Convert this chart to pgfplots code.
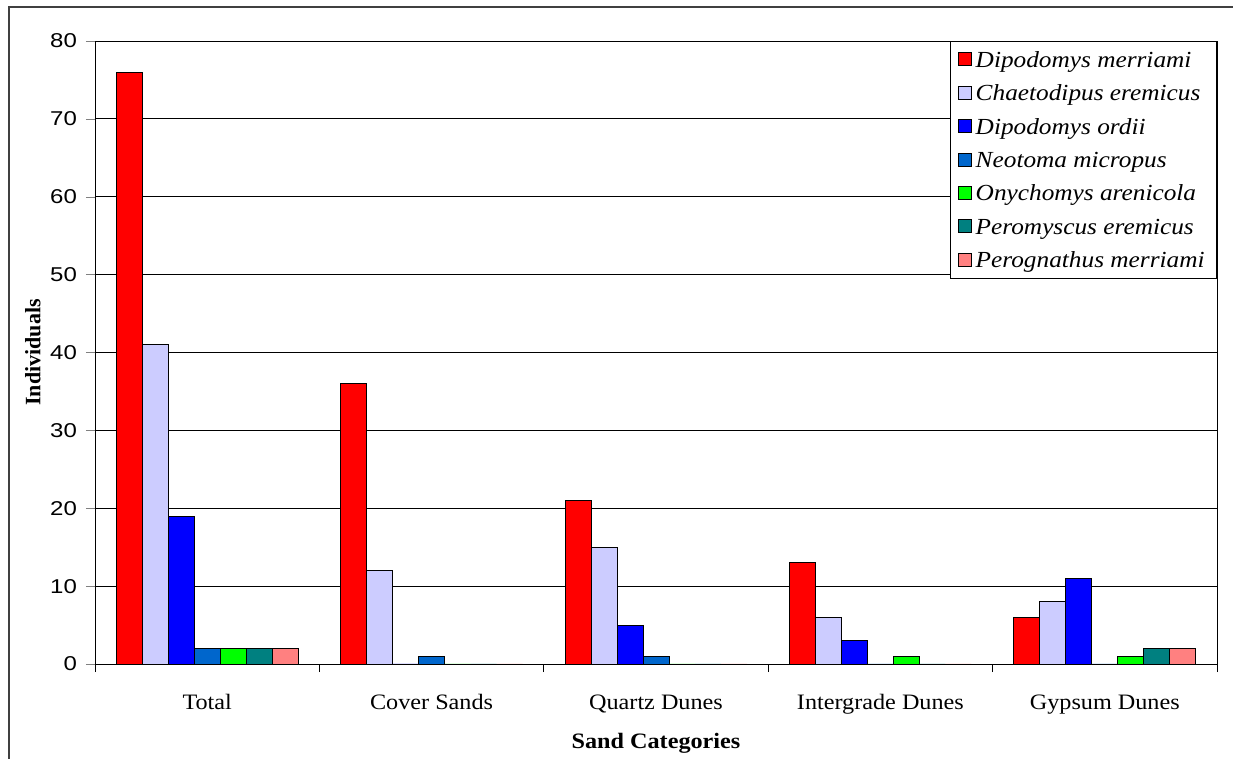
\documentclass[border=0pt]{standalone}
\usepackage{fontspec}
\setmainfont{Liberation Serif}
\newfontfamily\tickfont{Liberation Sans}[FakeStretch=1.2]
\newfontfamily\labfont{Liberation Serif}[FakeStretch=1.1]
\newfontfamily\legfont{Liberation Serif}[FakeStretch=1.1]
\usepackage{pgfplots}
\pgfplotsset{compat=1.18}

\definecolor{cMerr}{HTML}{FF0000}
\definecolor{cChae}{HTML}{CCCCFF}
\definecolor{cOrdi}{HTML}{0000FF}
\definecolor{cNeot}{HTML}{0066CC}
\definecolor{cOnyc}{HTML}{00FF00}
\definecolor{cPero}{HTML}{008080}
\definecolor{cPerg}{HTML}{FF8080}

\begin{document}
\begin{tikzpicture}
\begin{axis}[
  scale only axis,
  width=561pt, height=311.5pt,
  ybar=0pt, bar width=13pt,
  xmin=-0.5, xmax=4.5,
  ymin=0, ymax=80,
  ytick={0,10,...,80},
  xtick={0,1,2,3,4},
  xticklabels={Total,Cover Sands,Quartz Dunes,Intergrade Dunes,Gypsum Dunes},
  minor xtick={-0.5,0.5,1.5,2.5,3.5,4.5},
  major x tick style={draw=none},
  minor x tick style={black, thin},
  minor tick length=4pt,
  major tick length=4.5pt,
  tick align=outside,
  tick pos=left,
  ymajorgrids,
  grid style={black, thin},
  axis line style={black, thin},
  /pgf/number format/assume math mode=true,
  yticklabel style={font=\tickfont\fontsize{10}{12}\selectfont, anchor=east, xshift=-1pt},
  xticklabel style={font=\labfont\fontsize{11}{13}\selectfont, anchor=base, yshift=-18pt},
  ylabel={\bfseries Individuals},
  xlabel={\bfseries Sand Categories},
  ylabel style={font=\fontsize{11}{13}\selectfont, at={(axis description cs:-0.0553,0.5)}, anchor=center},
  xlabel style={font=\labfont\fontsize{11}{13}\selectfont, at={(axis description cs:0.5,-0.1268)}, anchor=center},
  legend style={at={(1,1)}, anchor=north east, draw=black, thin, fill=white,
    font=\legfont\itshape\fontsize{11.5}{13}\selectfont, row sep=4.2pt,
    inner xsep=4pt, inner ysep=3pt,
    nodes={text height=8pt, text depth=0.5pt}},
  legend cell align=left,
  legend image code/.code={\draw[#1,draw=black] (0pt,-3pt) rectangle (6.5pt,3.5pt);},
  every axis plot/.append style={draw=black, thin},
]
\addplot[fill=cMerr] coordinates {(0,76) (1,36) (2,21) (3,13) (4,6)};
\addplot[fill=cChae] coordinates {(0,41) (1,12) (2,15) (3,6) (4,8)};
\addplot[fill=cOrdi] coordinates {(0,19) (1,0) (2,5) (3,3) (4,11)};
\addplot[fill=cNeot] coordinates {(0,2) (1,1) (2,1) (3,0) (4,0)};
\addplot[fill=cOnyc] coordinates {(0,2) (1,0) (2,0) (3,1) (4,1)};
\addplot[fill=cPero] coordinates {(0,2) (1,0) (2,0) (3,0) (4,2)};
\addplot[fill=cPerg] coordinates {(0,2) (1,0) (2,0) (3,0) (4,2)};
\legend{Dipodomys merriami,Chaetodipus eremicus,Dipodomys ordii,Neotoma micropus,Onychomys arenicola,Peromyscus eremicus,Perognathus merriami}
\end{axis}
\draw[line width=1pt, black!75] (-43pt,-47.5pt) -- (-43pt,328.5pt) -- (569pt,328.5pt);
\pgfresetboundingbox
\path[use as bounding box] (-47.5pt,-47.5pt) rectangle (570pt,332pt);
\end{tikzpicture}
\end{document}
